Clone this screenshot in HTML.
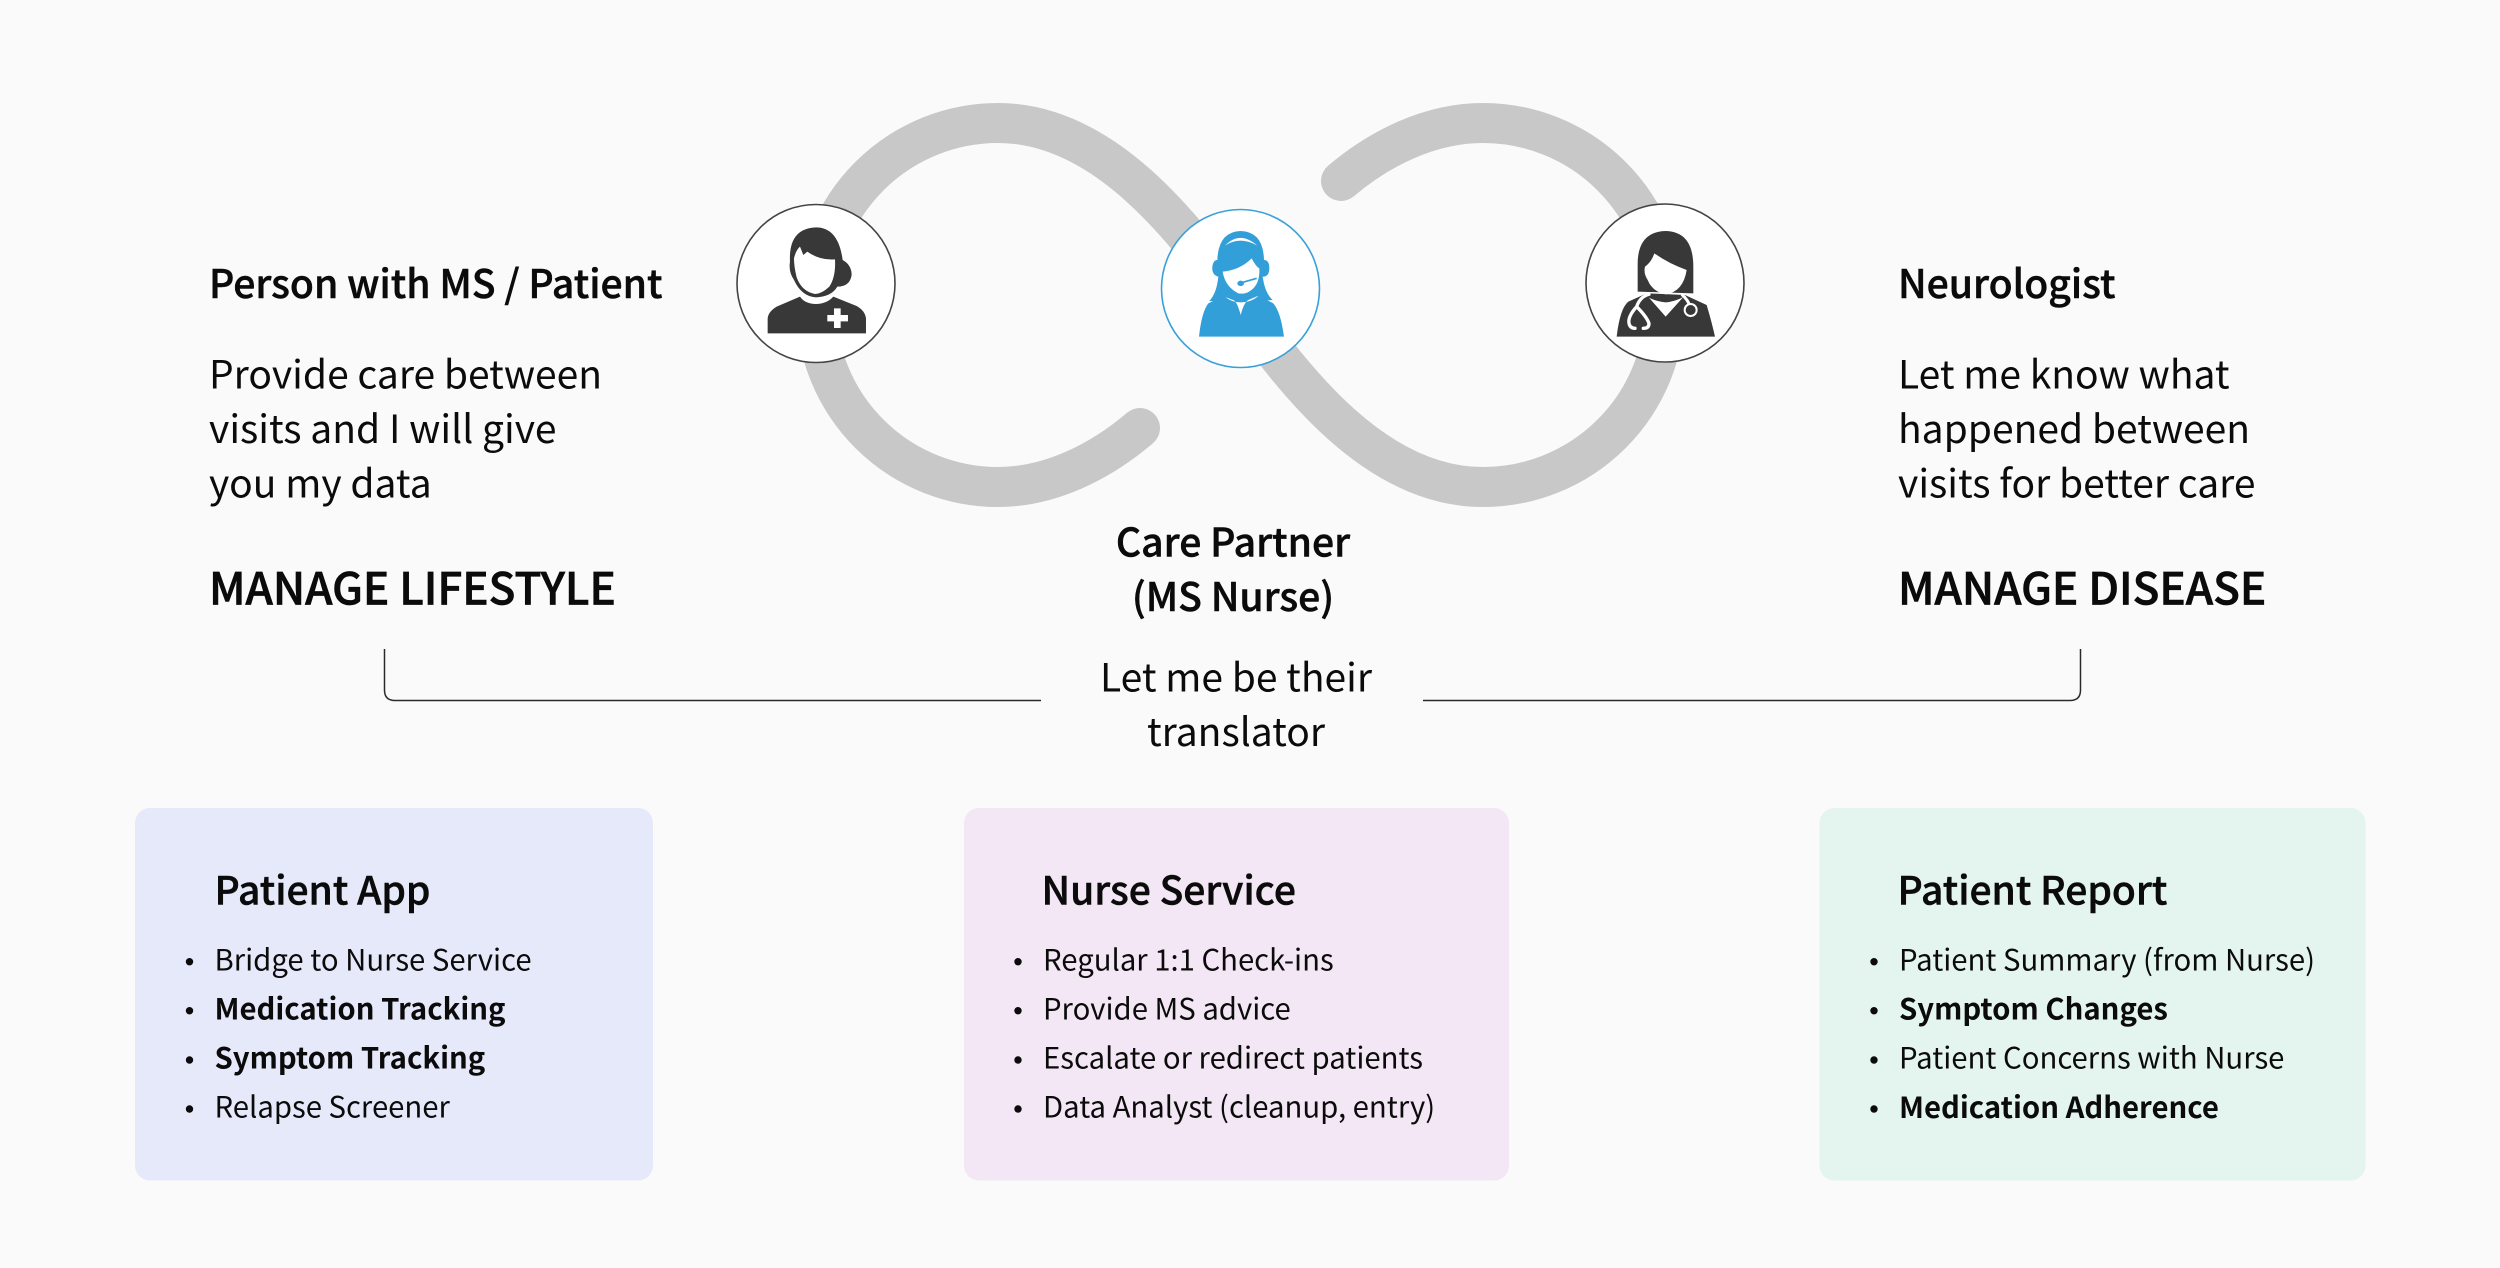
<!DOCTYPE html>
<html><head><meta charset="utf-8"><style>
html,body{margin:0;padding:0;background:#fafafa}
svg{display:block}
text{font-family:"Noto Sans CJK JP","Liberation Sans",sans-serif;fill:#0b0b0b}
.h{font-size:39.1px;font-weight:500;stroke:#0b0b0b;stroke-width:.5px}
.b{font-size:39px}
.m{font-size:44px;font-weight:500;stroke:#0b0b0b;stroke-width:.7px}
.t{font-size:39px;font-weight:500;stroke:#0b0b0b;stroke-width:.5px}
.l{font-size:29.3px}
.lb{font-size:29.3px;font-weight:700}
</style></head><body>
<svg width="2500" height="1268" viewBox="0 0 2500 1268" xmlns="http://www.w3.org/2000/svg">
<rect width="2500" height="1268" fill="#fafafa"/>
<path d="M1140 428C1100 462 1050 487 998 487A182 182 0 0 1 998 123C1110 123 1192 240 1240 305C1288 370 1370 487 1483 487A182 182 0 0 0 1483 123C1430 123 1380 148 1341 181" fill="none" stroke="#c9c8c9" stroke-width="40" stroke-linecap="round"/>

<!-- circles -->
<circle cx="816" cy="283.5" r="79" fill="#fff" stroke="#444" stroke-width="1.6"/>
<circle cx="1240.5" cy="288.5" r="79" fill="#fff" stroke="#39a0d8" stroke-width="1.6"/>
<circle cx="1665" cy="283" r="79" fill="#fff" stroke="#444" stroke-width="1.6"/>

<!-- patient -->
<g transform="translate(720 190) scale(.3333)" fill="#383838">
<path d="M143 430V385Q145 365 170 350L240 320Q255 342 288 342Q320 342 340 320L410 348Q435 362 438 385V430Z"/>
<path d="M222 270Q205 245 210 215Q205 115 288 112Q355 112 368 210Q395 225 395 255Q390 290 352 290Q335 320 288 322Q245 320 222 270Z"/>
<path d="M240 170L250 195L262 185Q300 212 345 208Q348 260 328 290Q305 312 285 312Q245 304 230 262Q222 230 222 205Q228 180 240 170Z" fill="#fff"/>
<path d="M342 355H362V375H384V394H362V414H342V394H322V375H342Z" fill="#fff"/>
</g>

<!-- nurse -->
<g transform="translate(1150 195) scale(.3333)" fill="#339fd9">
<path d="M147 425Q155 350 175 325L215 305H330L370 325Q392 350 402 425Z"/>
<path d="M178 318Q200 295 205 245Q185 240 187 215Q190 195 202 195Q205 110 272 108Q340 110 342 195Q358 195 358 220Q358 245 338 245Q345 295 368 315L300 320H240Z"/>
<path d="M218 230Q270 225 305 190Q318 215 328 220Q330 260 310 280Q290 300 265 295Q225 275 218 230Z" fill="#fff"/>
<path d="M225 152Q270 105 322 152Q270 122 225 152Z" fill="#fff"/>
<path d="M226 306L252 316Q262 322 272 360Q282 322 295 315L326 302Q305 322 272 322Q245 322 226 306Z" fill="#fff"/>
<path d="M268 265L320 250" stroke="#339fd9" stroke-width="5" fill="none"/>
<ellipse cx="272" cy="265" rx="10" ry="8"/>
</g>

<!-- doctor -->
<g transform="translate(1575 195) scale(.3333)" fill="#383838">
<path d="M125 425Q135 340 160 320L215 295L330 300L395 330Q410 380 420 425Z"/>
<path d="M188 290V215Q185 110 272 108Q355 110 355 215V295Z"/>
<path d="M238 175Q280 205 335 225Q325 290 272 298Q232 290 218 255Q205 235 210 215Q230 200 238 175Z" fill="#fff"/>
<path d="M222 308Q245 320 272 322Q300 320 325 306L272 365Z" fill="#fff"/>
<path d="M222 298Q195 305 185 335Q158 365 162 385Q165 400 180 400M185 335Q215 365 222 385Q222 400 205 400" fill="none" stroke="#fff" stroke-width="10" stroke-linecap="round"/>
<path d="M320 298Q340 315 345 335" fill="none" stroke="#fff" stroke-width="9"/>
<circle cx="347" cy="345" r="18" fill="#383838" stroke="#fff" stroke-width="6"/>
</g>

<!-- bracket -->
<path d="M384.5 649V690Q384.5 700.5 395 700.5H1041M1423 700.5H2070Q2080.5 700.5 2080.5 690V649" fill="none" stroke="#2a2a2a" stroke-width="1.5"/>

<!-- left text -->
<text class="h" x="209" y="298">Person with MS / Patient</text>
<text class="b" x="209" y="388.5">Provide care between</text>
<text class="b" x="209" y="443">visits and I will give</text>
<text class="b" x="209" y="497.5">you my data</text>
<text class="m" x="209" y="604.5">MANAGE LIFESTYLE</text>

<!-- right text -->
<text class="h" x="1898" y="298">Neurologist</text>
<text class="b" x="1898" y="388.5">Let me know what</text>
<text class="b" x="1898" y="443">happened between</text>
<text class="b" x="1898" y="497.5">visits for better care</text>
<text class="m" x="1898" y="604.5">MANAGE DISEASE</text>

<!-- centre text -->
<text class="h" x="1233" y="556.5" text-anchor="middle">Care Partner</text>
<text class="h" x="1233" y="611" text-anchor="middle">(MS Nurse)</text>
<text class="b" x="1236" y="691.5" text-anchor="middle">Let me be their</text>
<text class="b" x="1236" y="746" text-anchor="middle">translator</text>

<!-- boxes -->
<rect x="135" y="808" width="518" height="372.5" rx="15" fill="#e6e9fa"/>
<rect x="964" y="808" width="545" height="372.5" rx="15" fill="#f3e6f5"/>
<rect x="1819.5" y="808" width="546" height="372.5" rx="15" fill="#e4f4ee"/>

<text class="t" x="214.5" y="904.5">Patient App</text>
<g fill="#0b0b0b"><circle cx="189.5" cy="961.7" r="3.7"/><circle cx="189.5" cy="1010.7" r="3.7"/><circle cx="189.5" cy="1060" r="3.7"/><circle cx="189.5" cy="1109" r="3.7"/></g>
<text class="l" x="214.5" y="970.5">Bridge to Nurse Service</text>
<text class="lb" x="214.5" y="1019.5">Medication Tracking</text>
<text class="lb" x="214.5" y="1068.5">Symptom Tracking</text>
<text class="l" x="214.5" y="1117.5">Relapse Screener</text>

<text class="t" x="1041.5" y="904.5">Nurse Service</text>
<g fill="#0b0b0b"><circle cx="1018" cy="961.7" r="3.7"/><circle cx="1018" cy="1010.7" r="3.7"/><circle cx="1018" cy="1060" r="3.7"/><circle cx="1018" cy="1109" r="3.7"/></g>
<text class="l" x="1043" y="970.5">Regular 1:1 Check-ins</text>
<text class="l" x="1043" y="1019.5">Provide MS advice</text>
<text class="l" x="1043" y="1068.5">Escalate or redirect patients</text>
<text class="l" x="1043" y="1117.5">Data Analyst (cleanup, entry)</text>

<text class="t" x="1897.5" y="904.5">Patient Report</text>
<g fill="#0b0b0b"><circle cx="1874" cy="961.7" r="3.7"/><circle cx="1874" cy="1010.7" r="3.7"/><circle cx="1874" cy="1060" r="3.7"/><circle cx="1874" cy="1109" r="3.7"/></g>
<text class="l" x="1899" y="970.5">Patient Summary (from Nurse)</text>
<text class="lb" x="1899" y="1019.5">Symptom Changes</text>
<text class="l" x="1899" y="1068.5">Patient Concerns with Nurse</text>
<text class="lb" x="1899" y="1118">Medication Adherence</text>
</svg>
</body></html>
